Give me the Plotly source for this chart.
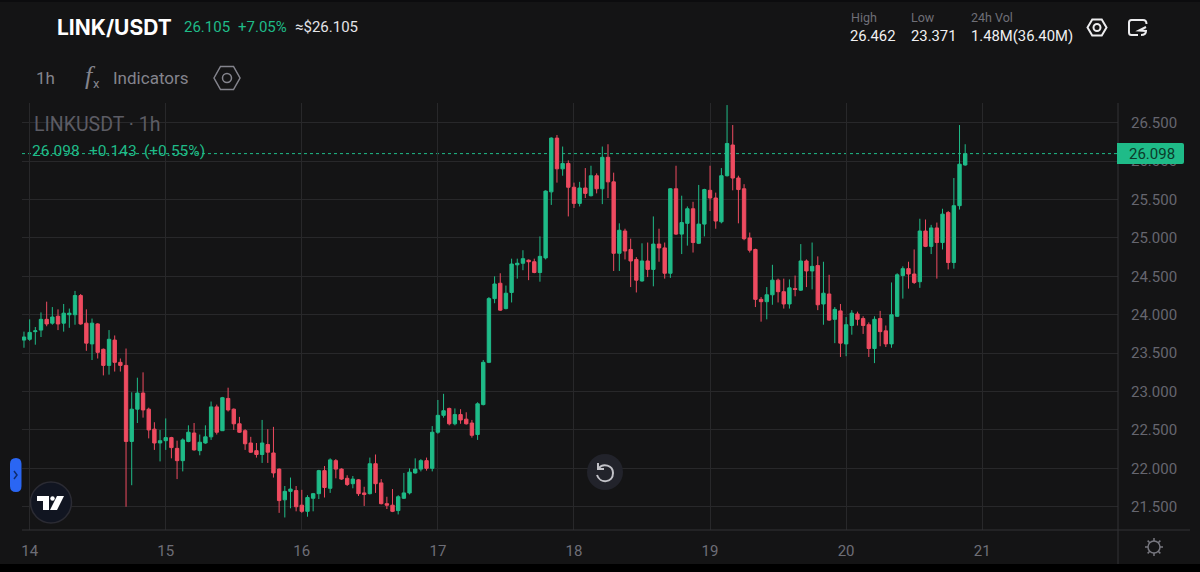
import math
import re

import pandas as pd
import plotly.graph_objects as go

WIDTH, HEIGHT = 1200, 572
LEFT, RIGHT, TOP, BOTTOM = 22, 1118, 103, 530

BG = "#141415"
GRID = "#28282a"
AXIS = "#323236"
GREEN = "#1fbb88"
RED = "#ee4b60"

# hourly candles, oldest first
opens = [
    23.67, 23.68, 23.78, 23.80, 23.94, 23.89, 23.98, 23.89, 24.00, 24.00, 24.25, 23.89, 23.62, 23.88,
    23.55, 23.34, 23.67, 23.38, 23.34, 22.35, 22.77, 22.98, 22.77, 22.51, 22.33, 22.36, 22.40, 22.26,
    22.10, 22.35, 22.46, 22.23, 22.33, 22.41, 22.80, 22.49, 22.91, 22.77, 22.58, 22.49, 22.33, 22.23,
    22.18, 22.31, 22.20, 21.99, 21.59, 21.70, 21.71, 21.52, 21.44, 21.61, 21.67, 21.97, 21.74, 22.10,
    21.99, 21.87, 21.80, 21.85, 21.68, 21.67, 22.06, 21.81, 21.54, 21.52, 21.45, 21.61, 21.68, 21.94,
    21.99, 22.10, 22.00, 22.47, 22.69, 22.78, 22.58, 22.70, 22.64, 22.59, 22.44, 22.83, 23.38, 24.21,
    24.41, 24.08, 24.29, 24.65, 24.67, 24.71, 24.69, 24.55, 24.74, 25.60, 26.30, 25.90, 25.97, 25.66,
    25.45, 25.65, 25.55, 25.81, 25.64, 26.05, 25.73, 24.80, 25.09, 24.85, 24.72, 24.44, 24.70, 24.59,
    24.92, 24.87, 24.54, 25.64, 25.05, 25.19, 25.38, 24.93, 25.18, 25.62, 25.52, 25.21, 25.81, 26.21,
    25.78, 25.64, 25.00, 24.85, 24.20, 24.17, 24.26, 24.45, 24.30, 24.14, 24.34, 24.32, 24.70, 24.57,
    24.64, 24.14, 24.27, 23.94, 24.05, 23.62, 23.86, 24.01, 23.95, 23.87, 23.56, 23.95, 23.79, 23.62,
    23.98, 24.51, 24.60, 24.53, 24.43, 25.09, 24.89, 25.13, 24.94, 25.33, 24.68, 25.42, 25.95,
]
highs = [
    23.78, 23.94, 23.84, 24.03, 24.17, 24.10, 24.07, 24.14, 24.08, 24.31, 24.27, 24.07, 23.95, 23.89,
    23.56, 23.80, 23.73, 23.43, 23.56, 22.99, 23.18, 23.25, 22.79, 22.60, 22.50, 22.65, 22.41, 22.36,
    22.39, 22.56, 22.59, 22.44, 22.56, 22.87, 22.83, 22.93, 23.05, 22.78, 22.67, 22.51, 22.41, 22.33,
    22.63, 22.51, 22.54, 22.00, 21.77, 21.88, 21.77, 21.72, 21.65, 21.68, 21.98, 22.03, 22.13, 22.12,
    22.00, 21.91, 21.90, 21.86, 21.76, 22.14, 22.18, 21.86, 21.63, 21.73, 21.65, 21.94, 22.00, 22.13,
    22.12, 22.14, 22.55, 22.89, 22.97, 22.79, 22.78, 22.77, 22.73, 22.63, 22.86, 23.41, 24.23, 24.50,
    24.54, 24.38, 24.73, 24.73, 24.84, 24.72, 24.73, 25.02, 25.62, 26.31, 26.34, 26.19, 26.01, 25.72,
    25.73, 25.91, 25.94, 25.84, 26.19, 26.22, 25.85, 25.19, 25.12, 24.99, 24.75, 24.93, 24.94, 25.28,
    25.12, 24.94, 25.65, 25.94, 25.55, 25.41, 25.47, 25.69, 25.64, 25.94, 25.59, 25.91, 26.73, 26.47,
    25.81, 25.70, 25.07, 24.86, 24.23, 24.36, 24.65, 24.47, 24.47, 24.46, 24.51, 24.92, 24.72, 24.94,
    24.76, 24.69, 24.52, 24.10, 24.14, 23.97, 24.06, 24.04, 23.98, 23.90, 23.98, 24.05, 23.86, 24.42,
    24.54, 24.63, 24.69, 24.85, 25.25, 25.24, 25.17, 25.20, 25.38, 25.35, 25.78, 26.47, 26.22,
]
lows = [
    23.57, 23.66, 23.61, 23.71, 23.85, 23.87, 23.80, 23.78, 23.83, 23.87, 23.87, 23.53, 23.41, 23.43,
    23.21, 23.22, 23.26, 23.26, 21.50, 21.78, 22.59, 22.66, 22.39, 22.24, 22.09, 22.24, 22.13, 21.86,
    21.96, 22.34, 22.23, 22.17, 22.32, 22.37, 22.44, 22.49, 22.74, 22.50, 22.46, 22.24, 22.20, 22.14,
    22.07, 22.07, 21.88, 21.42, 21.36, 21.48, 21.44, 21.42, 21.37, 21.44, 21.60, 21.62, 21.68, 21.87,
    21.85, 21.77, 21.74, 21.64, 21.51, 21.66, 21.68, 21.53, 21.47, 21.43, 21.40, 21.60, 21.66, 21.93,
    21.96, 21.97, 21.96, 22.45, 22.66, 22.56, 22.56, 22.58, 22.57, 22.40, 22.37, 22.82, 23.37, 24.15,
    24.05, 24.07, 24.16, 24.47, 24.58, 24.45, 24.54, 24.43, 24.72, 25.43, 25.72, 25.81, 25.28, 25.39,
    25.41, 25.52, 25.54, 25.58, 25.44, 25.52, 24.57, 24.57, 24.72, 24.36, 24.29, 24.43, 24.49, 24.37,
    24.69, 24.47, 24.48, 25.04, 24.79, 24.90, 24.81, 24.92, 25.02, 25.35, 25.12, 25.19, 25.80, 25.62,
    25.19, 24.97, 24.81, 24.10, 23.91, 23.94, 24.13, 24.16, 24.08, 24.08, 24.24, 24.31, 24.36, 24.33,
    24.06, 23.87, 23.92, 23.63, 23.45, 23.46, 23.74, 23.86, 23.75, 23.45, 23.37, 23.59, 23.58, 23.57,
    23.97, 24.21, 24.34, 24.40, 24.35, 24.88, 24.79, 24.47, 24.85, 24.59, 24.60, 25.37, 25.94,
]
closes = [
    23.71, 23.77, 23.79, 23.94, 23.88, 23.97, 23.88, 24.02, 24.02, 24.25, 23.88, 23.63, 23.89, 23.51,
    23.34, 23.68, 23.38, 23.34, 22.35, 22.77, 22.98, 22.76, 22.50, 22.33, 22.36, 22.40, 22.27, 22.10,
    22.37, 22.47, 22.24, 22.34, 22.41, 22.80, 22.47, 22.92, 22.76, 22.58, 22.47, 22.32, 22.21, 22.18,
    22.33, 22.21, 21.94, 21.58, 21.70, 21.73, 21.50, 21.44, 21.62, 21.67, 21.97, 21.75, 22.11, 21.99,
    21.86, 21.79, 21.86, 21.67, 21.66, 22.06, 21.80, 21.54, 21.52, 21.44, 21.63, 21.68, 21.95, 21.99,
    22.10, 22.00, 22.47, 22.69, 22.75, 22.58, 22.70, 22.63, 22.58, 22.43, 22.84, 23.38, 24.21, 24.40,
    24.06, 24.28, 24.66, 24.67, 24.73, 24.69, 24.55, 24.76, 25.61, 26.30, 25.90, 25.97, 25.66, 25.45,
    25.65, 25.58, 25.81, 25.64, 26.05, 25.73, 24.80, 25.10, 24.83, 24.70, 24.45, 24.70, 24.59, 24.92,
    24.87, 24.54, 25.64, 25.05, 25.20, 25.38, 24.94, 25.18, 25.63, 25.52, 25.22, 25.81, 26.23, 25.78,
    25.63, 24.99, 24.84, 24.20, 24.17, 24.26, 24.45, 24.30, 24.14, 24.35, 24.33, 24.70, 24.57, 24.63,
    24.13, 24.28, 23.93, 24.07, 23.63, 23.87, 24.02, 23.94, 23.86, 23.56, 23.94, 23.78, 23.62, 24.00,
    24.52, 24.60, 24.53, 24.42, 25.09, 24.89, 25.13, 24.94, 25.31, 24.68, 25.42, 25.96, 26.098,
]
times = pd.date_range("2025-08-13 23:00", periods=len(closes), freq="h")
y_ticks = [21.5, 22.0, 22.5, 23.0, 23.5, 24.0, 24.5, 25.0, 25.5, 26.0, 26.5]


# everything outside the plot is placed in screen pixels of the reference
def paper_x(x):
    return (x - LEFT) / (RIGHT - LEFT)


def paper_y(y):
    return (BOTTOM - y) / (BOTTOM - TOP)


def px_path(path):
    return re.sub(
        r"(-?[\d.]+),(-?[\d.]+)",
        lambda m: f"{paper_x(float(m[1])):.5f},{paper_y(float(m[2])):.5f}",
        path,
    )


def add_text(x, y, text, size, color, anchor="left", family="Roboto"):
    fig.add_annotation(
        x=paper_x(x), y=paper_y(y), xref="paper", yref="paper", text=text, showarrow=False,
        xanchor=anchor, yanchor="middle", borderpad=0,
        font=dict(size=size, color=color, family=family),
    )


def add_path(path, line=None, fill=None, width=1.5):
    fig.add_shape(
        type="path", path=px_path(path), xref="paper", yref="paper", layer="above",
        line=dict(color=line or "rgba(0,0,0,0)", width=width),
        fillcolor=fill or "rgba(0,0,0,0)",
    )


def add_circle(cx, cy, r, line=None, fill=None, width=1.5):
    fig.add_shape(
        type="circle", xref="paper", yref="paper", layer="above",
        x0=paper_x(cx - r), x1=paper_x(cx + r), y0=paper_y(cy + r), y1=paper_y(cy - r),
        line=dict(color=line or "rgba(0,0,0,0)", width=width),
        fillcolor=fill or "rgba(0,0,0,0)",
    )


def add_hexagon(cx, cy, w, h, r, color, width):
    q = w / 4
    add_path(
        f"M{cx - 2 * q},{cy} L{cx - q},{cy - h / 2} L{cx + q},{cy - h / 2} "
        f"L{cx + 2 * q},{cy} L{cx + q},{cy + h / 2} L{cx - q},{cy + h / 2} Z",
        line=color, width=width,
    )
    add_circle(cx, cy, r, line=color, width=width)


fig = go.Figure(
    go.Candlestick(
        x=times, open=opens, high=highs, low=lows, close=closes,
        increasing=dict(line=dict(color=GREEN, width=1), fillcolor=GREEN),
        decreasing=dict(line=dict(color=RED, width=1), fillcolor=RED),
        whiskerwidth=0,
        showlegend=False,
    )
)

fig.update_layout(
    width=WIDTH, height=HEIGHT,
    margin=dict(l=LEFT, r=WIDTH - RIGHT, t=TOP, b=HEIGHT - BOTTOM, pad=0, autoexpand=False),
    paper_bgcolor=BG, plot_bgcolor=BG,
    boxgap=0.15,
    hovermode=False,
    xaxis=dict(
        type="date", range=["2025-08-13 22:39", "2025-08-21 23:57"],
        rangeslider=dict(visible=False), automargin=False,
        dtick=86400000, tick0="2025-08-14", tickformat="%-d",
        ticks="outside", ticklen=7, tickcolor="rgba(0,0,0,0)",
        tickfont=dict(size=15, color="#6e6e77", family="Roboto"),
        showgrid=True, gridcolor=GRID, gridwidth=1, zeroline=False, showline=False,
    ),
    yaxis=dict(
        side="right", range=[21.197, 26.757], tickvals=y_ticks, tickformat=".3f", automargin=False,
        ticks="outside", ticklen=9, tickcolor="rgba(0,0,0,0)",
        tickfont=dict(size=15, color="#66666f", family="Roboto"),
        showgrid=True, gridcolor=GRID, gridwidth=1, zeroline=False, showline=False,
    ),
)

# last price line
fig.add_shape(
    type="line", xref="paper", yref="y", x0=0, x1=1, y0=closes[-1], y1=closes[-1],
    line=dict(color=GREEN, width=1, dash="dot"), layer="between",
)

# strips and axis lines
fig.add_shape(type="rect", xref="paper", yref="paper", layer="above", line_width=0, fillcolor="#000000",
              x0=paper_x(0), x1=paper_x(WIDTH), y0=paper_y(HEIGHT), y1=paper_y(564))
fig.add_shape(type="rect", xref="paper", yref="paper", layer="above", line_width=0, fillcolor="#0c0c0e",
              x0=paper_x(0), x1=paper_x(WIDTH), y0=paper_y(2), y1=paper_y(0))
fig.add_shape(type="line", xref="paper", yref="paper", layer="above", line=dict(color=AXIS, width=1),
              x0=paper_x(LEFT), x1=paper_x(1190), y0=0, y1=0)
fig.add_shape(type="line", xref="paper", yref="paper", layer="above", line=dict(color=AXIS, width=1),
              x0=1, x1=1, y0=paper_y(564), y1=1)

# price tag on the axis
fig.add_shape(type="path", xref="paper", yref="paper", layer="above", line_width=0, fillcolor=GREEN,
              path=px_path("M1117,143 L1182,143 Q1184,143 1184,145 L1184,162 Q1184,164 1182,164 L1117,164 Z"))
add_text(1152, 154, f"{closes[-1]:.3f}", 15, "#0c3a2a", anchor="center")

# header
add_text(56, 27, "<b>LINK/USDT</b>", 21, "#ffffff", family="Inter")
add_text(183, 27, "26.105", 15, GREEN)
add_text(237, 27, "+7.05%", 15, GREEN)
add_text(294, 27, "≈$26.105", 15, "#e4e4e8")
add_text(850, 17, "High", 12.5, "#6f6f77")
add_text(910, 17, "Low", 12.5, "#6f6f77")
add_text(970, 17, "24h Vol", 12.5, "#6f6f77")
add_text(849, 36, "26.462", 14.8, "#f0f0f2")
add_text(910, 36, "23.371", 14.8, "#f0f0f2")
add_text(970, 36, "1.48M(36.40M)", 14.8, "#f0f0f2")
add_hexagon(1097, 27.5, 19, 16, 3.5, "#ececee", 2)
add_path("M1146.5,24 Q1146.5,20 1143,20 L1131.5,20 Q1129,20 1129,22.5 L1129,32.5 Q1129,35 1131.5,35 L1138,35",
         line="#ececee", width=2)
add_path("M1146,27 L1139,30.5 L1146,31 Q1146,35 1141,35", line="#ececee", width=2)

# toolbar
add_text(35, 78, "1h", 17, "#84848d")
add_text(84, 76, "<i>f</i>", 26, "#84848d", family="Liberation Serif")
add_text(92, 84, "x", 13, "#84848d")
add_text(112, 78, "Indicators", 17, "#84848d")
add_hexagon(227, 78, 26, 23, 4.5, "#84848d", 1.5)

# legend on the chart
add_text(33, 124, "LINKUSDT · 1h", 19.5, "#5c5c64")
add_text(31, 151, "26.098", 15.5, GREEN)
add_text(88, 151, "+0.143", 15.5, GREEN)
add_text(143, 151, "(+0.55%)", 15.5, GREEN)

# side handle
add_path("M10,464 Q10,458 16,458 Q21.5,458 21.5,464 L21.5,486 Q21.5,492 16,492 Q10,492 10,486 Z", fill="#2a66f3")
add_path("M14,471 L17,475 L14,479", line="#0e2c70", width=1.5)

# TradingView badge
add_circle(51, 502.5, 20.5, line="#2b2b33", fill="#111521", width=1.5)
add_path("M37,496 L49,496 L49,510 L43,510 L43,501 L37,501 Z", fill="#ffffff")
add_circle(52.5, 498.5, 2.2, fill="#ffffff", width=0)
add_path("M57,496 L64,496 L57,510 L50,510 Z", fill="#ffffff")

# replay button
add_circle(605, 472, 18, fill="#22232b", width=0)
add_path("M599,468 C603,463 613,465 613,473 C613,483 600,484 597,475", line="#c2c2c8", width=2)
add_path("M598,463 L598,469 L604,469", line="#c2c2c8", width=2)

# settings gear
add_circle(1154, 547, 6, line="#77777f", width=1.5)
for i in range(8):
    a = i * math.pi / 4
    add_path(
        f"M{1154 + 6 * math.cos(a):.2f},{547 + 6 * math.sin(a):.2f} "
        f"L{1154 + 9 * math.cos(a):.2f},{547 + 9 * math.sin(a):.2f}",
        line="#77777f", width=1.5,
    )

fig.write_html("out.html", post_script="document.body.style.margin='0';", config=dict(displayModeBar=False))
